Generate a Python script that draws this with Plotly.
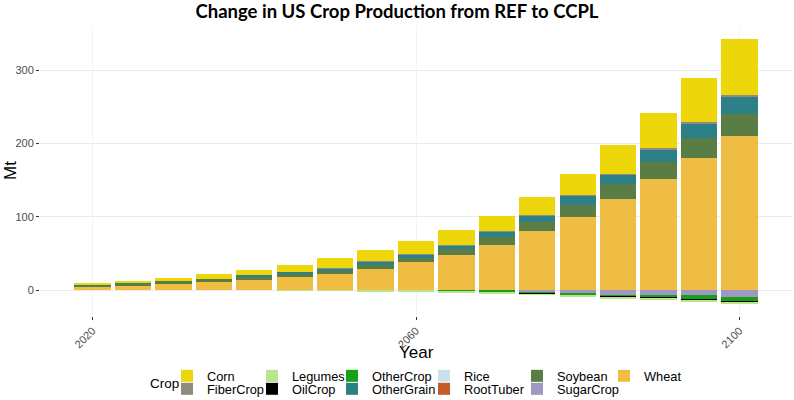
import plotly.graph_objects as go

years = list(range(2020, 2101, 5))

crops = ["Corn", "FiberCrop", "Legumes", "OilCrop", "OtherCrop", "OtherGrain",
         "Rice", "RootTuber", "Soybean", "SugarCrop", "Wheat"]

corn       = [2.7, 3.2, 3.6, 5.9, 7.7, 10.4, 14.0, 15.4, 16.8, 19.5, 21.3, 24.5, 29.5, 39.0, 48.0, 60.3, 76.2]
fibercrop  = [0.0, 0.0, 0.0, 0.0, 0.0, 0.0, 0.2, 0.3, 0.4, 0.5, 0.6, 0.7, 0.8, 0.9, 1.4, 2.7, 2.7]
legumes    = [0.0, 0.0, 0.0, 0.0, 0.0, -0.4, -0.5, -0.8, -0.8, -0.6, -0.5, -0.5, -0.5, -0.5, -0.5, -0.5, -0.5]
oilcrop    = [0.0, 0.0, 0.0, 0.0, 0.0, 0.0, 0.0, 0.0, 0.0, -0.3, -0.8, -0.6, -0.5, -1.0, -1.0, -1.4, -2.3]
othercrop  = [0.0, 0.0, 0.0, 0.0, 0.0, -0.3, -0.3, -0.3, -0.4, -1.2, -2.0, -2.5, -3.2, -3.2, -4.1, -5.9, -5.4]
othergrain = [0.9, 0.9, 0.5, 0.5, 1.4, 1.8, 3.6, 4.5, 5.4, 5.4, 7.3, 10.0, 12.7, 13.2, 16.8, 19.5, 22.7]
rice       = [0.0] * 17
roottuber  = [0.0] * 17
soybean    = [1.8, 2.3, 4.1, 4.5, 5.0, 4.5, 4.5, 5.0, 5.9, 7.7, 10.4, 12.2, 16.0, 20.0, 23.1, 26.8, 31.3]
sugarcrop  = [0.0, 0.0, 0.0, 0.0, 0.0, -0.1, -0.1, -0.3, -0.5, -0.4, -0.8, -2.5, -3.6, -5.9, -6.3, -6.8, -9.5]
wheat      = [5.0, 6.8, 8.6, 10.9, 14.0, 18.1, 22.2, 29.5, 38.0, 48.5, 62.1, 80.3, 100.0, 124.6, 152.0, 180.5, 209.5]

values = {"Corn": corn, "FiberCrop": fibercrop, "Legumes": legumes, "OilCrop": oilcrop,
          "OtherCrop": othercrop, "OtherGrain": othergrain, "Rice": rice,
          "RootTuber": roottuber, "Soybean": soybean, "SugarCrop": sugarcrop, "Wheat": wheat}

colors = {"Corn": "#EDD70A", "FiberCrop": "#8F8B7F", "Legumes": "#BDE38F", "OilCrop": "#000000",
          "OtherCrop": "#16A016", "OtherGrain": "#2E8088", "Rice": "#C8E3EC",
          "RootTuber": "#C55A2A", "Soybean": "#5A7D45", "SugarCrop": "#9F98C4", "Wheat": "#F0BD44"}

FONT = "Liberation Sans, Arial, sans-serif"

# ---- layout geometry (page pixels; body margin is removed below) ----
W, H = 794, 400
PL, PR, PT, PB = 40, 792, 26, 316          # panel edges in page pixels
PW, PH = PR - PL, PB - PT


def px_to_paper_x(px):
    return (px - PL) / PW


def px_to_paper_y(py):
    return (PB - py) / PH


col_swatch_left = [188, 273, 353, 445, 538, 625]   # legend column positions
row_center = [376, 389]                             # legend row centres

fig = go.Figure()
legends = {}
# stacking order: last crop at the bottom (like ggplot position_stack)
for crop in reversed(crops):
    idx = crops.index(crop)
    col, row = idx // 2, idx % 2
    lname = "legend" if idx == 0 else f"legend{idx + 1}"
    fig.add_trace(go.Bar(
        x=years, y=values[crop], name=crop,
        marker=dict(color=colors[crop], line=dict(width=0)),
        width=4.5,
        legend=lname,
        showlegend=True,
    ))
    legends[lname] = dict(
        x=px_to_paper_x(col_swatch_left[col] - 21), y=px_to_paper_y(row_center[row]),
        xanchor="left", yanchor="middle", orientation="h",
        font=dict(family=FONT, size=12.8, color="#000000"),
        bgcolor="rgba(0,0,0,0)", itemclick=False, itemdoubleclick=False)

fig.update_layout(
    width=W, height=H,
    showlegend=True,
    barmode="relative",
    bargap=0,
    plot_bgcolor="white", paper_bgcolor="white",
    margin=dict(l=PL, r=W - PR, t=PT, b=H - PB, autoexpand=False),
    title=dict(text="<b>Change in US Crop Production from REF to CCPL</b>",
               x=0.5, xanchor="center", y=1 - 12 / H, yanchor="middle",
               yref="container",
               font=dict(family="Lato, Open Sans, sans-serif", size=18.5, color="#000000")),
    xaxis=dict(range=[2013.5, 2106.5], tickvals=[2020, 2060, 2100],
               tickangle=-45, ticks="outside", ticklen=3, tickcolor="#333333",
               tickfont=dict(family=FONT, size=11, color="#4D4D4D"),
               showgrid=True, gridcolor="#F4F4F4", zeroline=False, showline=False,
               automargin=False),
    yaxis=dict(range=[-35, 360], tickvals=[0, 100, 200, 300],
               ticks="outside", ticklen=3, tickcolor="#333333",
               tickfont=dict(family=FONT, size=11, color="#4D4D4D"),
               showgrid=True, gridcolor="#EBEBEB", zeroline=False, showline=False,
               automargin=False),
    annotations=[
        dict(text="Crop", xref="paper", yref="paper",
             x=px_to_paper_x(148), y=px_to_paper_y(383),
             xanchor="left", yanchor="middle", showarrow=False,
             font=dict(family=FONT, size=13.5, color="#000000")),
        dict(text="Year", xref="paper", yref="paper",
             x=0.5, y=px_to_paper_y(352),
             xanchor="center", yanchor="middle", showarrow=False,
             font=dict(family=FONT, size=17, color="#000000")),
        dict(text="Mt", xref="paper", yref="paper", textangle=-90,
             x=px_to_paper_x(10), y=0.5,
             xanchor="center", yanchor="middle", showarrow=False,
             font=dict(family=FONT, size=17, color="#000000")),
    ],
    **legends,
)

fig.write_html("out.html", config={"displayModeBar": False},
               post_script="document.body.style.margin='0px';")
